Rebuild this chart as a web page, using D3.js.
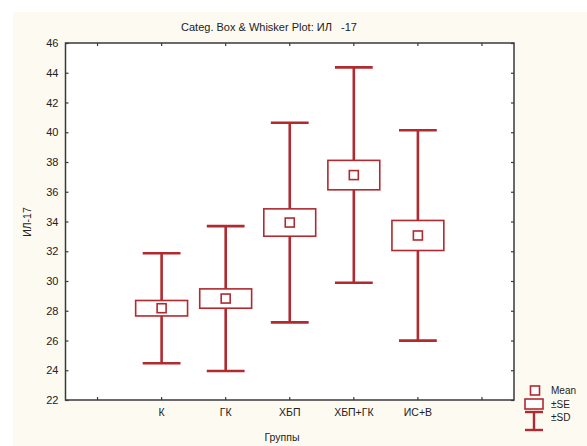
<!DOCTYPE html>
<html>
<head>
<meta charset="utf-8">
<script src="https://cdn.jsdelivr.net/npm/d3@7/dist/d3.min.js"></script>
<style>
  html, body { margin: 0; padding: 0; background: #ffffff; }
  svg { display: block; font-family: Arial, "Liberation Sans", sans-serif; }
  text { white-space: pre; }
</style>
</head>
<body>
<svg id="chart" width="587" height="446"></svg>
<script>
// Group labels along the x axis (empty slots pad each side)
const groups = ["К", "ГК", "ХБП", "ХБП+ГК", "ИС+В"];
const xSlots = ["", "К", "ГК", "ХБП", "ХБП+ГК", "ИС+В", " "];

// Mean, standard error and standard deviation of IL-17 per group
const means = [28.17, 28.82, 33.93, 37.12, 33.06];
const stdErr = [0.52, 0.65, 0.92, 0.99, 1.01];
const stdDev = [3.70, 4.87, 6.71, 7.24, 7.07];

const yTickValues = [22, 24, 26, 28, 30, 32, 34, 36, 38, 40, 42, 44, 46];
const legendLabels = ["Mean", "±SE", "±SD"];

const titleText = "Categ. Box & Whisker Plot: ИЛ   -17";
const yTitle = "ИЛ-17";
const xTitle = "Группы";

const red = "#b02a30";
const frame = "#3a3a3a";

const svg = d3.select("#chart");
const plot = { left: 65.5, top: 43, right: 514, bottom: 400 };

// page background
svg.append("rect").attr("x", 13).attr("y", 12).attr("width", 574).attr("height", 434)
  .attr("fill", "#fdfaf1");
svg.append("rect").attr("x", plot.left).attr("y", plot.top)
  .attr("width", plot.right - plot.left).attr("height", plot.bottom - plot.top)
  .attr("fill", "#ffffff");

const x = d3.scaleBand().domain(xSlots).range([plot.left, plot.right]).padding(0);
const y = d3.scaleLinear().domain([22, 46]).range([plot.bottom, plot.top]);
const cx = g => x(g) + x.bandwidth() / 2;

// axes with inward ticks on all four sides
function styleAxis(g) {
  g.select(".domain").remove();
  g.selectAll(".tick line").attr("stroke", frame).attr("stroke-width", 1.2);
  g.selectAll(".tick text").attr("fill", "#222");
}

svg.append("g").attr("transform", `translate(0,${plot.bottom})`)
  .call(d3.axisBottom(x).tickSize(-3).tickPadding(9).tickFormat(d => d.trim()))
  .call(styleAxis)
  .selectAll("text").attr("font-size", 10.5).attr("font-family", "Arial, 'Liberation Sans', sans-serif");

svg.append("g").attr("transform", `translate(0,${plot.top})`)
  .call(d3.axisTop(x).tickSize(-3).tickFormat(""))
  .call(styleAxis);

svg.append("g").attr("transform", `translate(${plot.left},0)`)
  .call(d3.axisLeft(y).tickValues(yTickValues).tickSize(-3).tickPadding(7))
  .call(styleAxis)
  .selectAll("text").attr("font-size", 11).attr("font-family", "Arial, 'Liberation Sans', sans-serif");

svg.append("g").attr("transform", `translate(${plot.right},0)`)
  .call(d3.axisRight(y).tickValues(yTickValues).tickSize(-3).tickFormat(""))
  .call(styleAxis);

// frame
svg.append("rect").attr("x", plot.left).attr("y", plot.top)
  .attr("width", plot.right - plot.left).attr("height", plot.bottom - plot.top)
  .attr("fill", "none").attr("stroke", frame).attr("stroke-width", 1.5);

// box & whisker marks
const bw = x.bandwidth();
const boxW = bw * 0.81;
const capW = bw * 0.59;
const mSize = 9;

const data = groups.map((g, i) => ({ g, mean: means[i], se: stdErr[i], sd: stdDev[i] }));
const marks = svg.append("g").selectAll("g").data(data).join("g");

// SD whisker
marks.append("line")
  .attr("x1", d => cx(d.g)).attr("x2", d => cx(d.g))
  .attr("y1", d => y(d.mean + d.sd)).attr("y2", d => y(d.mean - d.sd))
  .attr("stroke", red).attr("stroke-width", 2.6);
marks.append("line")
  .attr("x1", d => cx(d.g) - capW / 2).attr("x2", d => cx(d.g) + capW / 2)
  .attr("y1", d => y(d.mean + d.sd)).attr("y2", d => y(d.mean + d.sd))
  .attr("stroke", red).attr("stroke-width", 2.6);
marks.append("line")
  .attr("x1", d => cx(d.g) - capW / 2).attr("x2", d => cx(d.g) + capW / 2)
  .attr("y1", d => y(d.mean - d.sd)).attr("y2", d => y(d.mean - d.sd))
  .attr("stroke", red).attr("stroke-width", 2.6);

// SE box
marks.append("rect")
  .attr("x", d => cx(d.g) - boxW / 2).attr("width", boxW)
  .attr("y", d => y(d.mean + d.se)).attr("height", d => y(d.mean - d.se) - y(d.mean + d.se))
  .attr("fill", "#ffffff").attr("stroke", red).attr("stroke-width", 1.6);

// mean marker
marks.append("rect")
  .attr("x", d => cx(d.g) - mSize / 2).attr("y", d => y(d.mean) - mSize / 2)
  .attr("width", mSize).attr("height", mSize)
  .attr("fill", "#ffffff").attr("stroke", red).attr("stroke-width", 1.6);

// titles
svg.append("text").attr("x", 269).attr("y", 31).attr("text-anchor", "middle")
  .attr("font-size", 11).attr("fill", "#222").text(titleText);
svg.append("text").attr("transform", "translate(31,222) rotate(-90)")
  .attr("text-anchor", "middle").attr("font-size", 10.5).attr("fill", "#222").text(yTitle);
svg.append("text").attr("x", 282).attr("y", 441).attr("text-anchor", "middle")
  .attr("font-size", 10.5).attr("fill", "#222").text(xTitle);

// legend
const lg = svg.append("g");
lg.append("rect").attr("x", 530.5).attr("y", 386).attr("width", 9).attr("height", 9)
  .attr("fill", "#ffffff").attr("stroke", red).attr("stroke-width", 1.6);
lg.append("rect").attr("x", 525).attr("y", 399).attr("width", 18).attr("height", 10)
  .attr("fill", "#ffffff").attr("stroke", red).attr("stroke-width", 1.6);
lg.append("line").attr("x1", 525).attr("x2", 543).attr("y1", 412).attr("y2", 412)
  .attr("stroke", red).attr("stroke-width", 2.4);
lg.append("line").attr("x1", 525).attr("x2", 543).attr("y1", 430).attr("y2", 430)
  .attr("stroke", red).attr("stroke-width", 2.4);
lg.append("line").attr("x1", 534).attr("x2", 534).attr("y1", 412).attr("y2", 430)
  .attr("stroke", red).attr("stroke-width", 2.4);
lg.selectAll("text.leg").data(legendLabels).join("text").attr("class", "leg")
  .attr("x", 551).attr("y", (d, i) => 394 + i * 13.5)
  .attr("font-size", 10).attr("fill", "#222").text(d => d);
</script>
</body>
</html>
